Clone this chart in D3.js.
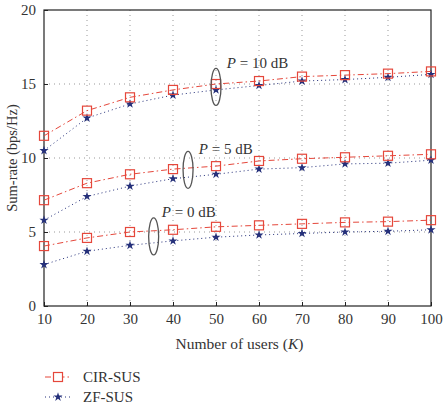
<!DOCTYPE html>
<html>
<head>
<meta charset="utf-8">
<script src="https://cdn.jsdelivr.net/npm/d3@7"></script>
<style>
  body { margin: 0; background: #fff; }
  text { font-family: "Liberation Serif", "DejaVu Serif", serif; fill: #333; }
</style>
</head>
<body>
<svg id="chart" width="447" height="404"></svg>
<script>
let width = 447, height = 404;
let margin = {left: 44, top: 10, right: 15, bottom: 98};

// x values (number of users K)
let users = [10, 20, 30, 40, 50, 60, 70, 80, 90, 100];
let yTicks = [0, 5, 10, 15, 20];

// sum-rate, one array per power level and scheme
let cir10 = [11.5, 13.2, 14.1, 14.6, 15.0, 15.2, 15.5, 15.6, 15.7, 15.85];
let zf10 = [10.5, 12.7, 13.65, 14.25, 14.6, 14.9, 15.2, 15.3, 15.45, 15.65];
let cir5 = [7.15, 8.3, 8.9, 9.25, 9.45, 9.8, 9.95, 10.05, 10.15, 10.25];
let zf5 = [5.8, 7.4, 8.1, 8.6, 8.9, 9.25, 9.35, 9.6, 9.65, 9.85];
let cir0 = [4.05, 4.6, 5.0, 5.15, 5.35, 5.45, 5.55, 5.65, 5.7, 5.8];
let zf0 = [2.8, 3.7, 4.1, 4.4, 4.65, 4.8, 4.9, 5.0, 5.05, 5.15];

// ellipse annotations: K centre, rate centre, label
let powerLabels = ["P = 10 dB", "P = 5 dB", "P = 0 dB"];
let ellipseK = [50, 43.5, 35.5];
let ellipseRate = [14.8, 9.2, 4.7];
let labelK = [52.5, 46, 37.4];
let labelRate = [16.1, 10.25, 6.0];

let red = "#e5473b", blue = "#25307a";

let svg = d3.select('#chart');
let x = d3.scaleLinear().domain([10, 100]).range([margin.left, width - margin.right - 1]);
let y = d3.scaleLinear().domain([0, 20]).range([height - margin.bottom, margin.top]);

// grid
let grid = svg.append('g');
grid.selectAll('line.vx')
    .data(users.slice(1, -1))
    .enter().append('line')
    .attr('x1', (d) => x(d)).attr('x2', (d) => x(d))
    .attr('y1', y(0)).attr('y2', y(20))
    .attr('stroke', '#999').attr('stroke-width', 1).attr('stroke-dasharray', '1,4');
grid.selectAll('line.hy')
    .data(yTicks.slice(1, -1))
    .enter().append('line')
    .attr('y1', (d) => y(d)).attr('y2', (d) => y(d))
    .attr('x1', x(10)).attr('x2', x(100))
    .attr('stroke', '#999').attr('stroke-width', 1).attr('stroke-dasharray', '1,4');

// axes
let xAxis = svg.append('g')
    .attr('transform', 'translate(0,' + y(0) + ')')
    .call(d3.axisBottom(x).tickValues(users).tickSize(-4).tickPadding(7));
let yAxis = svg.append('g')
    .attr('transform', 'translate(' + x(10) + ',0)')
    .call(d3.axisLeft(y).tickValues(yTicks).tickSize(-4).tickPadding(8));
[xAxis, yAxis].forEach((a) => {
    a.select('.domain').remove();
    a.selectAll('line').attr('stroke', '#222');
    a.selectAll('text').attr('font-size', 15).attr('fill', '#333')
        .attr('font-family', '"Liberation Serif", serif');
});

// frame
svg.append('rect')
    .attr('x', x(10)).attr('y', y(20))
    .attr('width', x(100) - x(10)).attr('height', y(0) - y(20))
    .attr('fill', 'none').attr('stroke', '#222').attr('stroke-width', 1.2);

// series
let line = d3.line().x((d, i) => x(users[i])).y((d) => y(d));
let star = d3.symbol().type(d3.symbolStar).size(26);

function drawCir(vals) {
    svg.append('path').datum(vals).attr('d', line)
        .attr('fill', 'none').attr('stroke', red).attr('stroke-width', 1)
        .attr('stroke-dasharray', '6,3,1.5,3');
    svg.append('g').selectAll('rect').data(vals).enter().append('rect')
        .attr('x', (d, i) => x(users[i]) - 4.5).attr('y', (d) => y(d) - 4.5)
        .attr('width', 9).attr('height', 9)
        .attr('fill', 'none').attr('stroke', red).attr('stroke-width', 1.2);
}

function drawZf(vals) {
    svg.append('path').datum(vals).attr('d', line)
        .attr('fill', 'none').attr('stroke', blue).attr('stroke-width', 1)
        .attr('stroke-dasharray', '1,3');
    svg.append('g').selectAll('path').data(vals).enter().append('path')
        .attr('d', star)
        .attr('transform', (d, i) => 'translate(' + x(users[i]) + ',' + y(d) + ')')
        .attr('fill', blue);
}

[[cir10, zf10], [cir5, zf5], [cir0, zf0]].forEach((p) => {
    drawZf(p[1]);
    drawCir(p[0]);
});

// ellipses and labels
powerLabels.forEach((lab, i) => {
    svg.append('ellipse')
        .attr('cx', x(ellipseK[i])).attr('cy', y(ellipseRate[i]))
        .attr('rx', 5).attr('ry', 18.5)
        .attr('fill', 'none').attr('stroke', '#555').attr('stroke-width', 1.3);
    let parts = lab.split(' = ');
    let t = svg.append('text')
        .attr('x', x(labelK[i])).attr('y', y(labelRate[i]))
        .attr('font-size', 15);
    t.append('tspan').attr('font-style', 'italic').text(parts[0]);
    t.append('tspan').text(' = ' + parts[1]);
});

// axis titles
svg.append('text')
    .attr('transform', 'translate(14,' + (y(10)) + ') rotate(-90)')
    .attr('text-anchor', 'middle').attr('dominant-baseline', 'middle')
    .attr('font-size', 14.5)
    .text('Sum-rate (bps/Hz)');
let xl = svg.append('text')
    .attr('x', (x(10) + x(100)) / 2 + 2).attr('y', 349)
    .attr('text-anchor', 'middle').attr('font-size', 15.5);
xl.append('tspan').text('Number of users (');
xl.append('tspan').attr('font-style', 'italic').text('K');
xl.append('tspan').text(')');

// legend
let leg = svg.append('g').attr('transform', 'translate(45,377)');
leg.append('line').attr('x1', 0).attr('x2', 27).attr('y1', 0).attr('y2', 0)
    .attr('stroke', red).attr('stroke-dasharray', '6,3,1.5,3');
leg.append('rect').attr('x', 8.5).attr('y', -4.5).attr('width', 9).attr('height', 9)
    .attr('fill', '#fff').attr('stroke', red).attr('stroke-width', 1.2);
leg.append('text').attr('x', 38).attr('y', 5).attr('font-size', 15).text('CIR-SUS');
leg.append('line').attr('x1', 0).attr('x2', 27).attr('y1', 20).attr('y2', 20)
    .attr('stroke', blue).attr('stroke-dasharray', '1,3');
leg.append('path').attr('d', star).attr('transform', 'translate(13,20)').attr('fill', blue);
leg.append('text').attr('x', 38).attr('y', 25).attr('font-size', 15).text('ZF-SUS');
</script>
</body>
</html>
